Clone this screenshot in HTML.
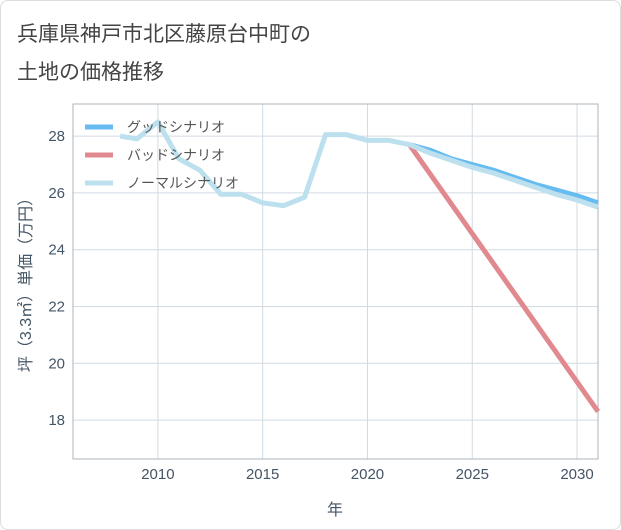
<!DOCTYPE html>
<html><head><meta charset="utf-8"><style>
body{margin:0;background:#fff;font-family:"Liberation Sans","Noto Sans CJK JP",sans-serif}
#c{position:relative;width:621px;height:530px;box-sizing:border-box;border:1px solid #ddd;border-radius:8px;overflow:hidden}
</style></head><body>
<div id="c">
<svg width="621" height="530">
<text x="16" y="40" font-size="21" fill="#444">兵庫県神戸市北区藤原台中町の</text>
<text x="16" y="78" font-size="21" fill="#444">土地の価格推移</text>
<g id="grid"></g><g id="axes"></g><g id="series"></g>
<text x="334" y="514" font-size="16" fill="#445566" text-anchor="middle">年</text>
<text transform="translate(30,280) rotate(-90)" font-size="16" fill="#445566" text-anchor="middle">坪（3.3㎡）単価（万円）</text>
<g>
<line x1="84" y1="126" x2="112" y2="126" stroke="#66bbf0" stroke-width="5"/>
<text x="126" y="131" font-size="14" fill="#555">グッドシナリオ</text>
<line x1="84" y1="154" x2="112" y2="154" stroke="#e08a90" stroke-width="5"/>
<text x="126" y="159" font-size="14" fill="#555">バッドシナリオ</text>
<line x1="84" y1="182" x2="112" y2="182" stroke="#bde0ee" stroke-width="5"/>
<text x="126" y="187" font-size="14" fill="#555">ノーマルシナリオ</text>
</g>
</svg></div>
<script>
const xTicks=[2010,2015,2020,2025,2030];
const yTicks=[18,20,22,24,26,28];
const normalYears=[2008.2,2009,2010,2011,2012,2013,2014,2015,2016,2017,2018,2019,2020,2021,2022,2023,2024,2025,2026,2027,2028,2029,2030,2031];
const normalVals=[28.0,27.9,28.5,27.2,26.8,25.95,25.95,25.65,25.55,25.85,28.05,28.05,27.85,27.85,27.7,27.4,27.15,26.9,26.7,26.45,26.2,25.95,25.75,25.5];
const goodYears=[2022,2023,2024,2025,2026,2027,2028,2029,2030,2031];
const goodVals=[27.7,27.5,27.2,27.0,26.8,26.55,26.3,26.1,25.9,25.65];
const badYears=[2022,2031];
const badVals=[27.7,18.3];
const X0=72,X1=597,Y0=103,Y1=458,xmin=2005.95,xmax=2031,ymin=16.63,ymax=29.13;
const sx=v=>X0+(v-xmin)/(xmax-xmin)*(X1-X0);
const sy=v=>Y1-(v-ymin)/(ymax-ymin)*(Y1-Y0);
const NS="http://www.w3.org/2000/svg";
function mk(t,a,p){const e=document.createElementNS(NS,t);for(const k in a)e.setAttribute(k,a[k]);p.appendChild(e);return e;}
const g=document.getElementById('grid'),ax=document.getElementById('axes'),s=document.getElementById('series');
xTicks.forEach(t=>{const l=mk('line',{x1:sx(t),x2:sx(t),y1:Y0,y2:Y1,stroke:'#d0dbe4'},g);


const tx=mk('text',{x:sx(t),y:478,'font-size':15,fill:'#445566','text-anchor':'middle'},ax);tx.textContent=t;

});
yTicks.forEach(t=>{const l=mk('line',{x1:X0,x2:X1,y1:sy(t),y2:sy(t),stroke:'#d0dbe4'},g);


const tx=mk('text',{x:64,y:sy(t)+5,'font-size':15,fill:'#445566','text-anchor':'end'},ax);tx.textContent=t;

});
const fr=mk('rect',{x:X0,y:Y0,width:X1-X0,height:Y1-Y0,fill:'none',stroke:'#aab4bc'},ax);


function line(xs,ys,c,n){const p=mk('polyline',{points:xs.map((x,i)=>sx(x)+','+sy(ys[i])).join(' '),fill:'none',stroke:c,'stroke-width':5,'stroke-linejoin':'round'},s);

}
line(badYears,badVals,'#e08a90','bad-scenario-line');
line(goodYears,goodVals,'#66bbf0','good-scenario-line');
line(normalYears,normalVals,'#bde0ee','normal-scenario-line');
</script>
</body></html>
